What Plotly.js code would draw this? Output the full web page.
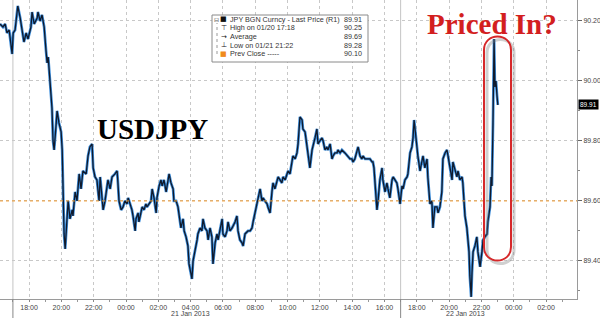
<!DOCTYPE html>
<html><head><meta charset="utf-8">
<script src="https://cdn.plot.ly/plotly-3.0.1.min.js"></script>
<style>html,body{margin:0;padding:0;background:#fff}#chart{width:600px;height:318px}</style>
</head><body><div id="chart"></div>
<script>
// USDJPY intraday, 20 Jan 2013 16:12 -> 21 Jan 2013 23:01 (times HH:MM, day rolls over at midnight)
const times = [
"16:12","16:23","16:31","16:38","16:46","16:57","17:01","17:08","17:18","17:23","17:27","17:34","17:41","17:49","17:56",
"18:07","18:11","18:19","18:30","18:33","18:41","18:48","18:56","19:03","19:07","19:11","19:18","19:25","19:29","19:33","19:40","19:44","19:51","19:59",
"20:03","20:06","20:10","20:14","20:21","20:25","20:32","20:40","20:43","20:51","20:58","21:06","21:13","21:20","21:32","21:39","21:46","21:54","21:58",
"22:05","22:12","22:20","22:24","22:35","22:42","22:50","22:53","23:01","23:08","23:19","23:27","23:30","23:34","23:42","23:49","23:56",
"00:04","00:08","00:15","00:22","00:26","00:34","00:37","00:45","00:48","00:56","01:00","01:07","01:14","01:18","01:26","01:33","01:37","01:44","01:52","01:55",
"02:03","02:10","02:14","02:21","02:29","02:36","02:40","02:47","02:55","02:58","03:06","03:13","03:17","03:24","03:32","03:36","03:43","03:50","03:54",
"04:01","04:05","04:09","04:16","04:24","04:27","04:35","04:42","04:46","04:53","05:01","05:05","05:12","05:19","05:23","05:31","05:38","05:42","05:49","05:57",
"06:00","06:08","06:15","06:19","06:26","06:34","06:45","06:52","06:56","07:03","07:11","07:15","07:22","07:33","07:41","07:48","07:52","07:59",
"08:07","08:10","08:18","08:25","08:29","08:36","08:44","08:47","08:55","09:02","09:06","09:13","09:21","09:25","09:32","09:39","09:43","09:51","09:58",
"10:02","10:09","10:17","10:20","10:28","10:35","10:39","10:46","10:54","10:57","11:05","11:12","11:16","11:23","11:31","11:34","11:42","11:49","11:53",
"12:00","12:08","12:12","12:19","12:26","12:30","12:38","12:45","12:49","12:56","13:04","13:07","13:15","13:22","13:33","13:41","13:44","13:52","13:59",
"14:03","14:10","14:18","14:22","14:29","14:36","14:40","14:48","14:55","14:59","15:06","15:14","15:17","15:21","15:25","15:32","15:36","15:43","15:51","15:54",
"16:02","16:09","16:13","16:20","16:28","16:32","16:39","16:46","16:50","16:58","17:05","17:09","17:16","17:24","17:27","17:35","17:42","17:46","17:50","17:57",
"18:01","18:04","18:12","18:19","18:23","18:30","18:38","18:41","18:49","18:56","19:00","19:07","19:15","19:19","19:26","19:33","19:37","19:45","19:52","19:56",
"20:03","20:11","20:14","20:22","20:29","20:33","20:40","20:48","20:51","20:59","21:06","21:10","21:14","21:17","21:22","21:25","21:29","21:36","21:43","21:47","21:55",
"22:02","22:06","22:13","22:21","22:24","22:32","22:36","22:39","22:43","22:47","22:50","22:54","22:58","23:01"
];
const prices = [
90.19,90.18,90.19,90.16,90.17,90.09,90.16,90.17,90.25,90.23,90.21,90.17,90.13,90.16,90.14,
90.18,90.23,90.19,90.21,90.23,90.20,90.22,90.18,90.10,90.06,90.08,89.98,89.91,89.80,89.77,89.85,89.90,89.86,89.83,
89.77,89.65,89.49,89.44,89.55,89.60,89.54,89.57,89.55,89.63,89.60,89.69,89.64,89.70,89.69,89.75,89.78,89.79,89.71,
89.68,89.67,89.60,89.68,89.57,89.60,89.65,89.67,89.64,89.68,89.69,89.70,89.66,89.60,89.57,89.58,89.60,
89.59,89.61,89.59,89.57,89.55,89.50,89.54,89.56,89.53,89.56,89.58,89.57,89.59,89.58,89.59,89.60,89.64,89.61,89.56,89.61,
89.65,89.67,89.65,89.67,89.63,89.67,89.69,89.66,89.64,89.60,89.60,89.58,89.55,89.51,89.54,89.50,89.48,89.45,89.39,
89.36,89.34,89.40,89.43,89.47,89.49,89.51,89.50,89.54,89.51,89.50,89.47,89.51,89.48,89.39,89.46,89.49,89.47,89.50,89.54,
89.49,89.48,89.50,89.53,89.50,89.51,89.53,89.55,89.50,89.47,89.46,89.45,89.49,89.50,89.50,89.51,89.53,89.56,
89.60,89.61,89.64,89.60,89.61,89.60,89.59,89.58,89.56,89.63,89.66,89.64,89.67,89.68,89.67,89.66,89.68,89.67,89.69,
89.70,89.69,89.73,89.75,89.74,89.76,89.79,89.88,89.87,89.84,89.83,89.78,89.75,89.71,89.77,89.78,89.81,89.84,89.79,
89.80,89.81,89.80,89.77,89.78,89.77,89.79,89.74,89.75,89.76,89.76,89.77,89.76,89.77,89.76,89.75,89.75,89.74,89.74,
89.73,89.74,89.77,89.78,89.75,89.74,89.75,89.74,89.74,89.74,89.74,89.73,89.73,89.71,89.65,89.57,89.60,89.67,89.71,89.67,
89.63,89.66,89.64,89.61,89.67,89.68,89.67,89.66,89.64,89.59,89.65,89.64,89.67,89.68,89.69,89.76,89.78,89.81,89.87,89.81,
89.77,89.75,89.70,89.74,89.75,89.71,89.74,89.68,89.59,89.60,89.51,89.58,89.58,89.56,89.58,89.63,89.74,89.76,89.77,89.75,
89.71,89.67,89.73,89.70,89.68,89.70,89.67,89.68,89.66,89.55,89.51,89.47,89.43,89.35,89.28,89.36,89.43,89.45,89.48,89.43,89.38,
89.43,89.47,89.48,89.49,89.53,89.58,89.68,89.65,89.86,90.14,89.98,90.00,89.95,89.92
];
const yTicks = [89.40, 89.60, 89.80, 90.00, 90.20];
const dayLabels = ["21 Jan 2013", "22 Jan 2013"];
const dayLabelTimes = ["2013-01-21 04:00", "2013-01-21 21:00"];
const dayBreaks = ["2013-01-20 17:00", "2013-01-21 17:00"];
const prevClose = 89.60;
const lastPrice = "89.91";
const legendLabels = ["JPY BGN Curncy - Last Price (R1)", "High on 01/20 17:18", "Average", "Low on 01/21 21:22", "Prev Close -----"];
const legendValues = ["89.91", "90.25", "89.69", "89.28", "90.10"];
const legendIcons = ["■", "⊤", "→", "⊥", "<span style='color:#f08a1c'>■</span>"];

function buildDates(ts) {
  let day = 20, prev = -1;
  return ts.map(t => {
    const [h, m] = t.split(":").map(Number);
    const mins = h * 60 + m;
    if (mins < prev) day++;
    prev = mins;
    return "2013-01-" + day + " " + t;
  });
}
const x = buildDates(times);

const W = 577, H = 299;
const px = v => v / W, py = v => 1 - v / H;
const P = (a, b) => px(a) + "," + py(b);

const traces = [
  {x: x, y: prices, type: "scatter", mode: "lines", line: {color: "#3f8fdc", width: 2.8}, hoverinfo: "skip"},
  {x: x, y: prices, type: "scatter", mode: "lines", line: {color: "#101a2c", width: 1.3}, hoverinfo: "skip"}
];

const capsule = (dx, dy) => `M ${P(484+dx,50+dy)} L ${P(484+dx,247+dy)} C ${P(484+dx,265+dy)} ${P(511+dx,265+dy)} ${P(511+dx,247+dy)} L ${P(511+dx,50+dy)} C ${P(511+dx,32+dy)} ${P(484+dx,32+dy)} ${P(484+dx,50+dy)} Z`;

const shapes = [];
dayBreaks.forEach(t => {
  shapes.push({type: "line", xref: "x", yref: "paper", x0: t, x1: t, y0: 0, y1: 1, line: {color: "#c4c4c4", width: 1}, layer: "below"});
  shapes.push({type: "line", xref: "x", yref: "paper", x0: t, x1: t, y0: -0.065, y1: 0, line: {color: "#888", width: 1}});
});
shapes.push({type: "line", xref: "paper", yref: "y", x0: 0, x1: 1, y0: prevClose, y1: prevClose, line: {color: "#f29a2e", width: 1, dash: "dot"}, layer: "above"});
// legend box
shapes.push({type: "rect", xref: "paper", yref: "paper", x0: px(212), x1: px(368), y0: py(62), y1: py(15), fillcolor: "#fff", line: {color: "#8a8a8a", width: 1}, layer: "above"});
shapes.push({type: "line", xref: "paper", yref: "paper", x0: px(217), x1: px(217), y0: py(54), y1: py(23), line: {color: "#999", width: 1, dash: "dot"}, layer: "above"});
// capsule highlight
shapes.push({type: "path", xref: "paper", yref: "paper", path: capsule(3, 3), line: {color: "rgba(120,120,120,0.35)", width: 3}, layer: "above"});
shapes.push({type: "path", xref: "paper", yref: "paper", path: capsule(0, 0), line: {color: "#d6282a", width: 2}, layer: "above"});

const annotations = [];
dayLabels.forEach((lab, i) => annotations.push({text: lab, x: dayLabelTimes[i], xref: "x", y: 0, yref: "paper", yanchor: "top", yshift: -8.5, showarrow: false, font: {family: "Liberation Sans", size: 7, color: "#444"}}));
const rowY = [19.5, 28, 36.5, 45, 53.5];
legendLabels.forEach((lab, i) => {
  annotations.push({text: legendIcons[i], x: px(223.5), y: py(rowY[i]), xref: "paper", yref: "paper", xanchor: "center", yanchor: "middle", showarrow: false, font: {family: "DejaVu Sans", size: 7, color: "#111"}});
  annotations.push({text: lab, x: px(228), y: py(rowY[i]), xref: "paper", yref: "paper", xanchor: "left", yanchor: "middle", showarrow: false, font: {family: "Liberation Sans", size: 7.2, color: "#333"}});
  annotations.push({text: legendValues[i], x: px(364), y: py(rowY[i]), xref: "paper", yref: "paper", xanchor: "right", yanchor: "middle", showarrow: false, font: {family: "Liberation Sans", size: 7.2, color: "#333"}});
});
annotations.push({text: "⊟", x: px(216.5), y: py(19.5), xref: "paper", yref: "paper", xanchor: "center", yanchor: "middle", showarrow: false, font: {family: "DejaVu Sans", size: 6, color: "#555"}});
annotations.push({text: "<b>USDJPY</b>", x: px(152), y: py(129), xref: "paper", yref: "paper", xanchor: "center", yanchor: "middle", showarrow: false, font: {family: "Liberation Serif", size: 29, color: "#000"}});
annotations.push({text: "<b>Priced In?</b>", x: px(492), y: py(24), xref: "paper", yref: "paper", xanchor: "center", yanchor: "middle", showarrow: false, font: {family: "Liberation Serif", size: 29, color: "#d31f1f"}});
annotations.push({text: lastPrice, x: 1, xref: "paper", y: prices[prices.length - 1], yref: "y", xanchor: "left", yanchor: "middle", xshift: 1, showarrow: false, bgcolor: "#000", borderpad: 1, font: {family: "Liberation Sans", size: 6.5, color: "#fff"}});

const layout = {
  width: 600, height: 318,
  margin: {l: 0, r: 23, t: 0, b: 19, pad: 0},
  paper_bgcolor: "#fff", plot_bgcolor: "#fff",
  showlegend: false,
  xaxis: {
    type: "date", range: ["2013-01-20 16:12", "2013-01-22 03:55"],
    tickmode: "linear", tick0: "2013-01-20 00:00", dtick: 7200000, tickformat: "%H:%M",
    showgrid: true, gridcolor: "#c8c8c8", griddash: "dot", gridwidth: 1,
    zeroline: false, showline: true, linecolor: "#9a9a9a", linewidth: 1,
    ticks: "outside", ticklen: 2, tickcolor: "#888",
    minor: {dtick: 3600000, tick0: "2013-01-20 00:00", ticks: "outside", ticklen: 2, tickcolor: "#999", showgrid: false},
    tickfont: {family: "Liberation Sans", size: 7, color: "#444"}, fixedrange: true
  },
  yaxis: {
    side: "right", range: [89.273, 90.27],
    tickmode: "array", tickvals: yTicks, ticktext: yTicks.map(v => v.toFixed(2)),
    showgrid: true, gridcolor: "#c8c8c8", griddash: "dot", gridwidth: 1,
    zeroline: false, showline: true, linecolor: "#9a9a9a", linewidth: 1,
    ticks: "outside", ticklen: 4, tickcolor: "#666",
    minor: {tickmode: "linear", tick0: 89.3, dtick: 0.1, ticks: "outside", ticklen: 2, tickcolor: "#888", showgrid: false},
    tickfont: {family: "Liberation Sans", size: 7, color: "#444"}, fixedrange: true
  },
  shapes: shapes,
  annotations: annotations
};
Plotly.newPlot("chart", traces, layout, {staticPlot: true, displayModeBar: false});
</script></body></html>
